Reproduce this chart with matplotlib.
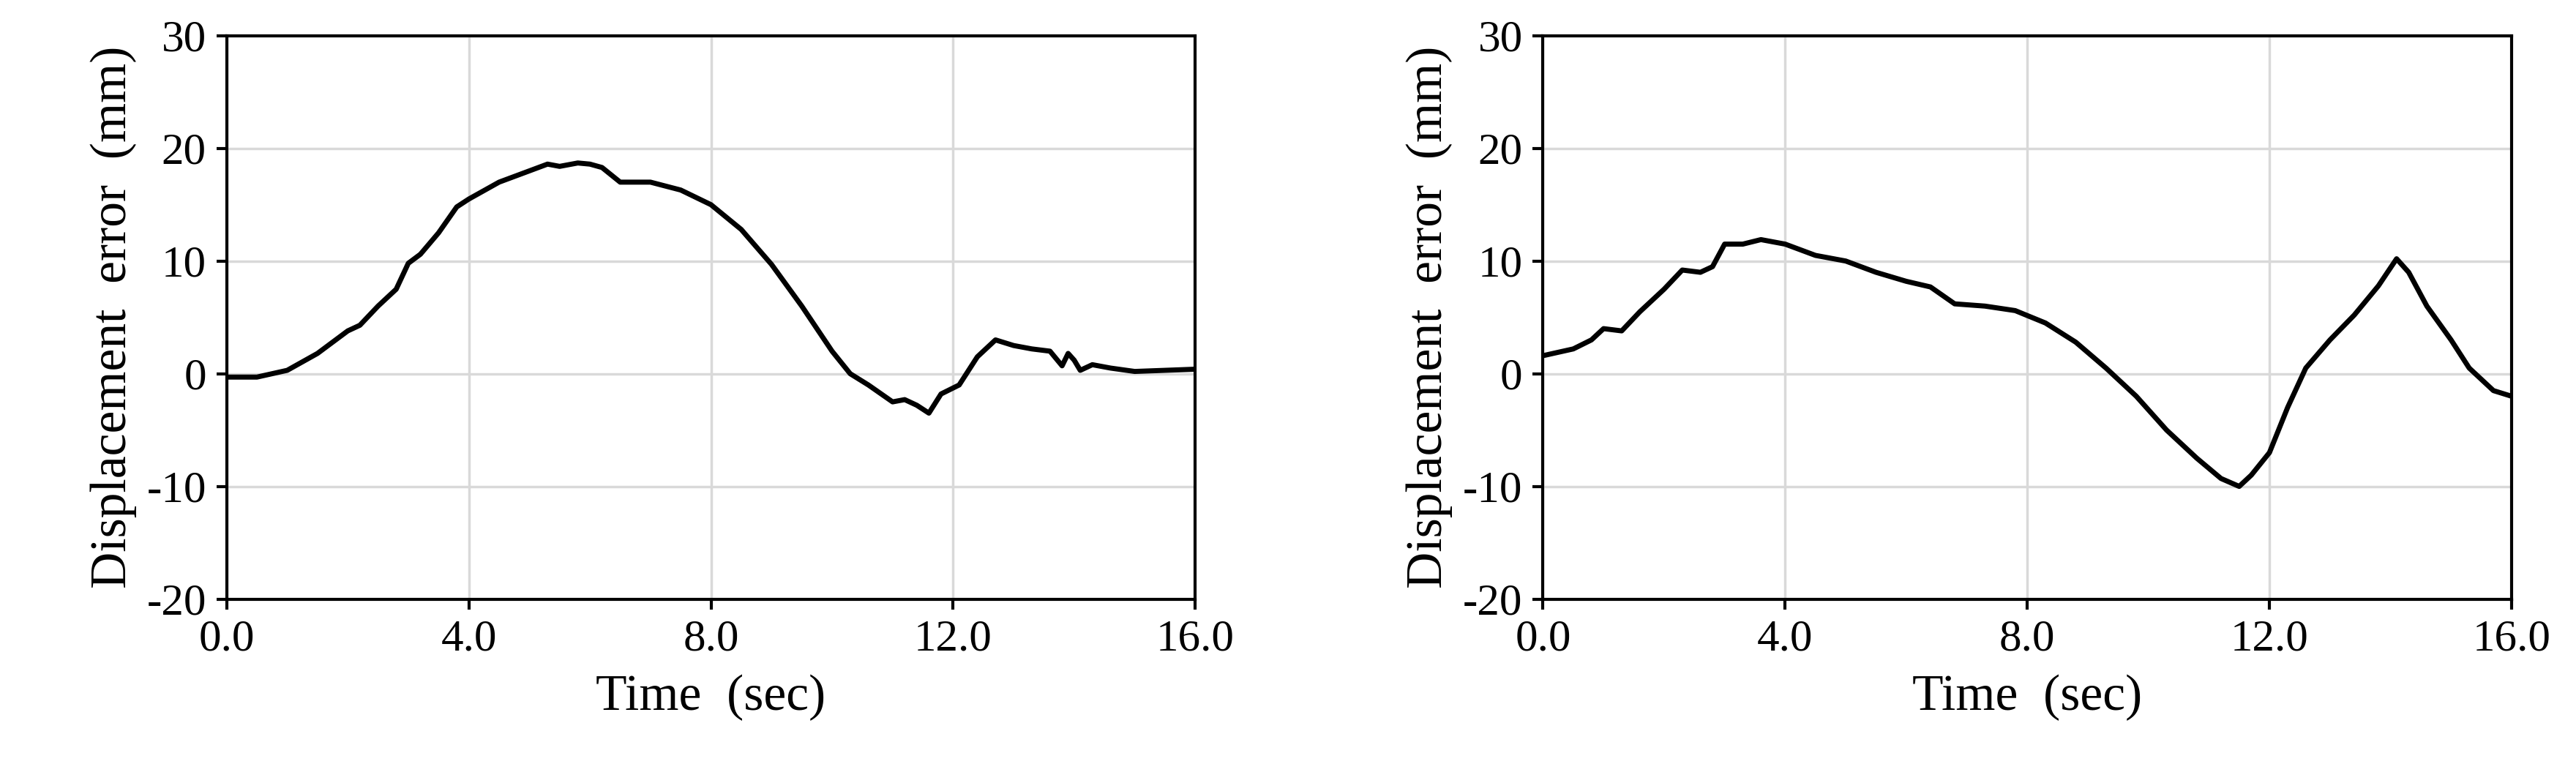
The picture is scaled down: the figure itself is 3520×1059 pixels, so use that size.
import matplotlib
matplotlib.use("Agg")
import matplotlib.pyplot as plt

plt.rcParams["font.family"] = ["Liberation Serif", "DejaVu Serif"]
plt.rcParams["axes.unicode_minus"] = False

# Left panel
t_left = [0.0, 0.5, 1.0, 1.5, 2.0, 2.2, 2.5, 2.8, 3.0, 3.2, 3.5, 3.8, 4.0, 4.5, 5.0,
          5.3, 5.5, 5.8, 6.0, 6.2, 6.5, 7.0, 7.5, 8.0, 8.5, 9.0, 9.5, 10.0, 10.3,
          10.6, 11.0, 11.2, 11.4, 11.6, 11.8, 12.1, 12.4, 12.7, 13.0, 13.3, 13.6,
          13.8, 13.9, 14.0, 14.1, 14.3, 14.6, 15.0, 15.5, 16.0]
y_left = [-0.3, -0.3, 0.3, 1.8, 3.8, 4.3, 6.0, 7.5, 9.8, 10.6, 12.5, 14.8, 15.5, 17.0,
          18.0, 18.6, 18.4, 18.7, 18.6, 18.3, 17.0, 17.0, 16.3, 15.0, 12.8, 9.7,
          6.0, 2.0, 0.0, -1.0, -2.5, -2.3, -2.8, -3.5, -1.8, -1.0, 1.5, 3.0, 2.5,
          2.2, 2.0, 0.7, 1.8, 1.2, 0.3, 0.8, 0.5, 0.2, 0.3, 0.4]

# Right panel
t_right = [0.0, 0.5, 0.8, 1.0, 1.3, 1.6, 2.0, 2.3, 2.6, 2.8, 3.0, 3.3, 3.6, 4.0, 4.5,
           5.0, 5.5, 6.0, 6.4, 6.8, 7.3, 7.8, 8.3, 8.8, 9.3, 9.8, 10.3, 10.8, 11.2,
           11.5, 11.7, 12.0, 12.3, 12.6, 13.0, 13.4, 13.8, 14.1, 14.3, 14.6, 15.0,
           15.3, 15.7, 16.0]
y_right = [1.6, 2.2, 3.0, 4.0, 3.8, 5.5, 7.5, 9.2, 9.0, 9.5, 11.5, 11.5, 11.9, 11.5,
           10.5, 10.0, 9.0, 8.2, 7.7, 6.2, 6.0, 5.6, 4.5, 2.8, 0.5, -2.0, -5.0, -7.5,
           -9.3, -10.0, -9.0, -7.0, -3.0, 0.5, 3.0, 5.2, 7.8, 10.2, 9.0, 6.0, 3.0,
           0.5, -1.5, -2.0]

x_ticks = [0, 4, 8, 12, 16]
x_ticklabels = ["0.0", "4.0", "8.0", "12.0", "16.0"]
y_ticks = [-20, -10, 0, 10, 20, 30]

fig = plt.figure(figsize=(35.2, 10.59), dpi=100)
ax1 = fig.add_axes([0.088, 0.227, 0.376, 0.727])
ax2 = fig.add_axes([0.599, 0.227, 0.376, 0.727])

for ax, t, y in [(ax1, t_left, y_left), (ax2, t_right, y_right)]:
    ax.plot(t, y, color="black", linewidth=5)
    ax.set_xlim(0, 16)
    ax.set_ylim(-20, 30)
    ax.set_xticks(x_ticks)
    ax.set_xticklabels(x_ticklabels)
    ax.set_yticks(y_ticks)
    ax.grid(True, color="#d9d9d9", linewidth=2.5)
    ax.set_axisbelow(True)
    for s in ax.spines.values():
        s.set_linewidth(3)
    ax.tick_params(direction="out", length=10, width=3, labelsize=44, pad=10)
    ax.set_xlabel("Time  (sec)", fontsize=50, labelpad=14)
    ax.set_ylabel("Displacement  error  (mm)", fontsize=50, labelpad=10)

fig.savefig("out.png", dpi=100)
